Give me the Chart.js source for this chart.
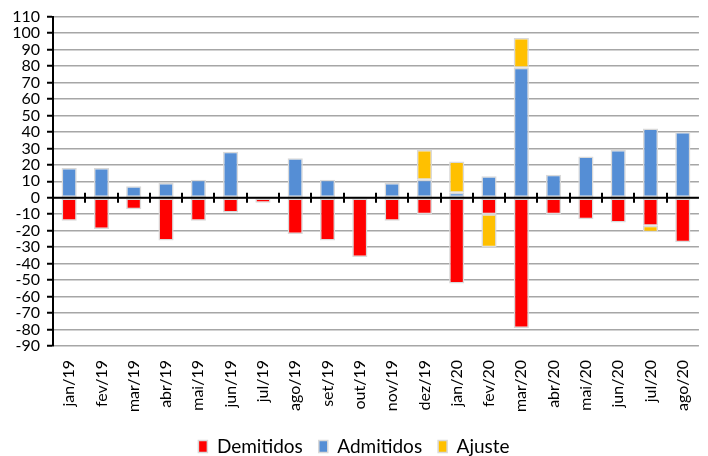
<!DOCTYPE html>
<html>
<head>
<meta charset="utf-8">
<script src="https://cdn.jsdelivr.net/npm/chart.js@4"></script>
<style>
  html, body { margin: 0; padding: 0; background: #fff; }
  #wrap { width: 708px; height: 456px; }
</style>
</head>
<body>
<div id="wrap"><canvas id="chart" width="708" height="456"></canvas></div>
<script>
let months = ['jan/19', 'fev/19', 'mar/19', 'abr/19', 'mai/19', 'jun/19', 'jul/19', 'ago/19', 'set/19', 'out/19',
  'nov/19', 'dez/19', 'jan/20', 'fev/20', 'mar/20', 'abr/20', 'mai/20', 'jun/20', 'jul/20', 'ago/20'];

let demitidos = [-14, -19, -7, -26, -14, -9, -3, -22, -26, -36, -14, -10, -52, -10, -79, -10, -13, -15, -17, -27];
let admitidos = [18, 18, 7, 9, 11, 28, null, 24, 11, null, 9, 11, 3, 13, 79, 14, 25, 29, 42, 40];
let ajuste = [null, null, null, null, null, null, null, null, null, null, null, 18, 19, -20, 18, null, null, null, -4, null];

let fontFamily = 'Lato, "Open Sans", sans-serif';

// zero line with small black ticks between the months
let zeroLinePlugin = {
  id: 'zeroLine',
  afterDatasetsDraw(chart) {
    let ctx = chart.ctx;
    let x = chart.scales.x;
    let y0 = chart.scales.y.getPixelForValue(0);
    ctx.save();
    ctx.strokeStyle = '#000';
    ctx.lineWidth = 2;
    ctx.beginPath();
    ctx.moveTo(chart.chartArea.left, y0);
    ctx.lineTo(chart.chartArea.right, y0);
    for (let i = 1; i < months.length; i++) {
      let bx = Math.round((x.getPixelForValue(i - 1) + x.getPixelForValue(i)) / 2);
      ctx.moveTo(bx, y0 - 5);
      ctx.lineTo(bx, y0 + 5);
    }
    ctx.stroke();
    ctx.restore();
  }
};

let barStyle = { borderColor: '#d9d9d9', borderWidth: 1.5, borderSkipped: false, barPercentage: 0.47, categoryPercentage: 1 };

new Chart(document.getElementById('chart'), {
  type: 'bar',
  data: {
    labels: months,
    datasets: [
      Object.assign({ label: 'Demitidos', data: demitidos, backgroundColor: '#ff0000' }, barStyle),
      Object.assign({ label: 'Admitidos', data: admitidos, backgroundColor: '#558ed5' }, barStyle),
      Object.assign({ label: 'Ajuste', data: ajuste, backgroundColor: '#ffc000' }, barStyle)
    ]
  },
  options: {
    responsive: false,
    animation: false,
    layout: { padding: { top: 12, right: 0, left: 0, bottom: -10 } },
    plugins: {
      tooltip: { enabled: false },
      legend: {
        position: 'bottom',
        labels: {
          color: '#000',
          font: { family: fontFamily, size: 19 },
          boxWidth: 9,
          boxHeight: 12,
          padding: 16
        }
      }
    },
    scales: {
      x: {
        stacked: true,
        grid: { display: false },
        border: { display: false },
        ticks: {
          color: '#000',
          font: { family: fontFamily, size: 16 },
          minRotation: 90,
          maxRotation: 90,
          autoSkip: false,
          padding: 6
        },
        afterFit(scale) { scale.height = 75; }
      },
      y: {
        stacked: true,
        min: -90,
        max: 110,
        grid: { color: '#a6a6a6', lineWidth: 1.5, tickColor: '#000', tickLength: 6, tickWidth: 2 },
        border: { display: true, color: '#000', width: 2 },
        ticks: {
          stepSize: 10,
          autoSkip: false,
          color: '#000',
          font: { family: fontFamily, size: 16 },
          padding: 7
        },
        afterFit(scale) { scale.width = 53; }
      }
    }
  },
  plugins: [zeroLinePlugin]
});
</script>
</body>
</html>
